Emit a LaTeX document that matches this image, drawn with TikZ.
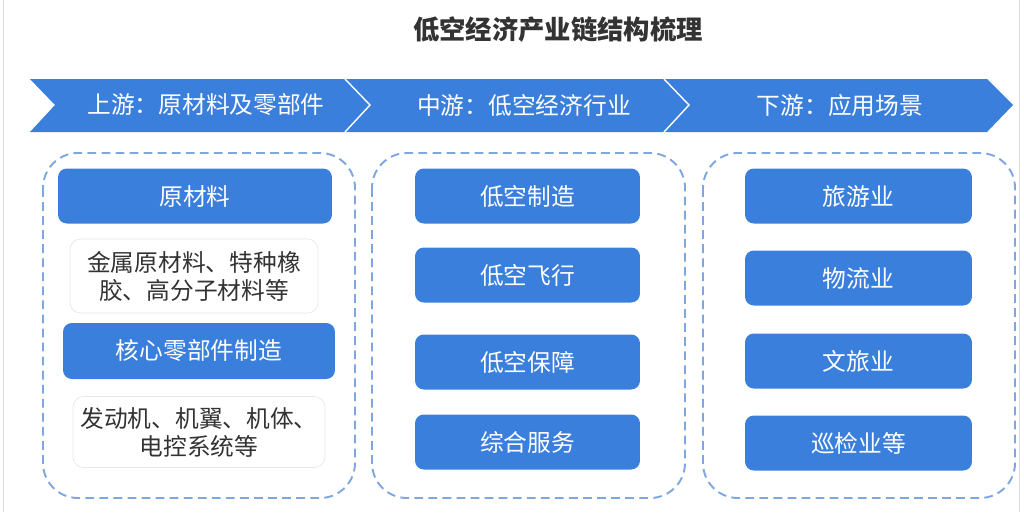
\documentclass[tikz,border=0pt]{standalone}
\usepackage{fontspec}
\setmainfont{Noto Sans CJK SC}
\usepackage{xcolor}
\definecolor{chainblue}{HTML}{3B7FDC}
\definecolor{dashblue}{HTML}{7FA7DF}
\definecolor{titlegray}{HTML}{333333}
\definecolor{lightedge}{HTML}{E4E8EE}

\tikzset{
  bluebox/.style={fill=chainblue, rounded corners=5pt, text=white,
    minimum height=1.1cm, font=\fontsize{13.5}{16}\selectfont},
  descbox/.style={draw=lightedge, fill=white, rounded corners=6pt, text=titlegray,
    align=center, font=\fontsize{13.5}{16}\selectfont},
  panel/.style={draw=dashblue, line width=1.1pt, dash pattern=on 5pt off 3pt,
    rounded corners=0.7cm},
  stagetext/.style={text=white, font=\fontsize{13.5}{16}\selectfont}
}

\begin{document}
\begin{tikzpicture}[x=0.02cm, y=-0.02cm]
  \useasboundingbox (0,0) rectangle (1024,512);

  % screenshot frame
  \draw[gray!25] (3,0) -- (3,512);
  \draw[gray!25] (1019,0) -- (1019,512);

  % title
  \node[text=titlegray, font=\fontsize{15}{18}\selectfont\bfseries] (title) at (558,30) {低空经济产业链结构梳理};

  % chevron banner
  \fill[chainblue] (30,79) -- (987,79) -- (1013,105) -- (987,132) -- (30,132) -- (55,105) -- cycle;
  \foreach \x in {345,664}{
    \draw[white, line width=0.8pt] (\x,79) -- (\x+25,105) -- (\x,132);
  }
  \node[stagetext] (up) at (206,105) {上游：原材料及零部件};
  \node[stagetext] (mid) at (524,105) {中游：低空经济行业};
  \node[stagetext] (down) at (840,105) {下游：应用场景};

  % dashed panels
  \draw[panel] (43,153) rectangle (355,498);
  \draw[panel] (372,153) rectangle (685,498);
  \draw[panel] (703,153) rectangle (1015,498);

  % upstream column
  \node[bluebox, minimum width=5.48cm] (raw) at (195,196) {原材料};
  \node[descbox, minimum width=4.96cm, minimum height=1.48cm] (rawdesc) at (194,276)
    {金属原材料、特种橡\\胶、高分子材料等};
  \node[bluebox, minimum width=5.44cm, minimum height=1.12cm] (core) at (199,351) {核心零部件制造};
  \node[descbox, minimum width=5.04cm, minimum height=1.42cm] (coredesc) at (199,432)
    {发动机、机翼、机体、\\电控系统等};

  % midstream column
  \foreach \name/\y/\txt in {make/196/低空制造, fly/275/低空飞行, guard/362/低空保障, serve/442/综合服务}{
    \node[bluebox, minimum width=4.5cm] (\name) at (527.5,\y) {\txt};
  }

  % downstream column
  \foreach \name/\y/\txt in {tour/196/旅游业, logi/278/物流业, culture/361/文旅业, patrol/443/巡检业等}{
    \node[bluebox, minimum width=4.54cm] (\name) at (858.5,\y) {\txt};
  }
\end{tikzpicture}
\end{document}
